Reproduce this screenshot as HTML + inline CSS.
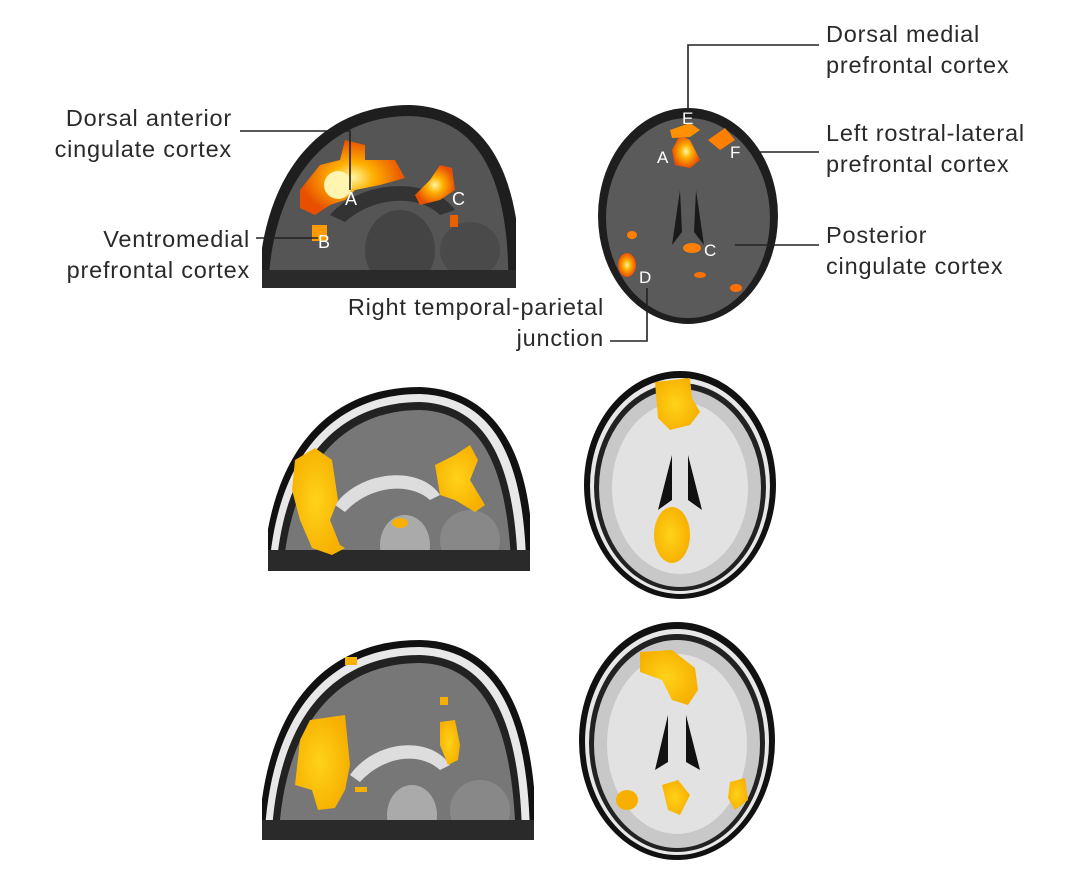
<!DOCTYPE html>
<html><head><meta charset="utf-8"><style>
html,body{margin:0;padding:0;background:#fff;}
body{width:1080px;height:872px;position:relative;overflow:hidden;font-family:"Liberation Sans",sans-serif;}
.t{position:absolute;font-size:23.5px;line-height:31px;color:#2a2a2a;letter-spacing:0.8px;white-space:nowrap;}
.r{text-align:right;}
</style></head><body>
<svg width="1080" height="872" style="position:absolute;left:0;top:0">
<defs>
<radialGradient id="hot" cx="50%" cy="50%" r="50%"><stop offset="0" stop-color="#fff7a0"/><stop offset=".4" stop-color="#ffb000"/><stop offset="1" stop-color="#e85000"/></radialGradient>
<radialGradient id="yel" cx="45%" cy="50%" r="55%"><stop offset="0" stop-color="#ffd21a"/><stop offset="1" stop-color="#f7b000"/></radialGradient>
</defs>
<!-- TOP SAGITTAL -->
<clipPath id="c1"><rect x="262" y="90" width="254" height="198"/></clipPath>
<g clip-path="url(#c1)">
<path d="M258,300 C258,175 320,105 410,105 C490,108 525,180 520,300Z" fill="#1e1e1e"/>
<path d="M268,300 C268,185 325,116 410,116 C482,118 512,185 508,300Z" fill="#555"/>
<path d="M330,215 C360,180 430,175 455,210 L440,215 C420,195 375,195 345,222Z" fill="#333"/>
<ellipse cx="400" cy="250" rx="35" ry="40" fill="#444"/>
<ellipse cx="470" cy="250" rx="30" ry="28" fill="#4a4a4a"/>
<rect x="262" y="270" width="254" height="20" fill="#2a2a2a"/>
<path d="M300,190 L320,165 L340,160 L345,140 L365,145 L365,160 L395,160 L405,178 L380,185 L355,190 L345,200 L330,205 L315,215 L300,208Z" fill="url(#hot)"/>
<ellipse cx="338" cy="185" rx="14" ry="14" fill="#fff4b0"/>
<path d="M415,195 L430,180 L440,165 L452,168 L455,190 L440,200 L420,205Z" fill="url(#hot)"/>
<rect x="312" y="225" width="15" height="16" fill="#ff9a00"/>
<rect x="450" y="215" width="8" height="12" fill="#e86000"/>
</g>
<g fill="#fff" font-family="Liberation Sans,sans-serif" font-size="18">
<text x="345" y="205">A</text><text x="452" y="205">C</text><text x="318" y="248">B</text>
</g>
<!-- TOP AXIAL -->
<ellipse cx="688" cy="216" rx="90" ry="108" fill="#1e1e1e"/>
<ellipse cx="688" cy="218" rx="82" ry="100" fill="#5a5a5a"/>
<path d="M680,190 L672,245 L682,232Z M696,190 L704,245 L694,232Z" fill="#1a1a1a"/>
<path d="M672,150 L680,135 L690,140 L700,160 L690,168 L675,165Z" fill="url(#hot)"/>
<path d="M670,130 L690,123 L700,130 L690,137 L672,138Z" fill="#ff9000"/>
<path d="M708,140 L725,128 L735,140 L720,150Z" fill="#ff8000"/>
<ellipse cx="627" cy="265" rx="9" ry="12" fill="url(#hot)"/>
<ellipse cx="632" cy="235" rx="5" ry="4" fill="#ff8000"/>
<ellipse cx="692" cy="248" rx="9" ry="5" fill="#ff8000"/>
<ellipse cx="700" cy="275" rx="6" ry="3" fill="#ff7000"/>
<ellipse cx="736" cy="288" rx="6" ry="4" fill="#ff7000"/>
<g fill="#fff" font-family="Liberation Sans,sans-serif" font-size="17">
<text x="682" y="124">E</text><text x="657" y="163">A</text><text x="730" y="158">F</text><text x="704" y="256">C</text><text x="639" y="283">D</text>
</g>
<!-- MIDDLE SAGITTAL -->
<clipPath id="c2"><rect x="268" y="370" width="262" height="201"/></clipPath>
<g clip-path="url(#c2)">
<path d="M262,600 C262,450 330,387 420,387 C500,390 540,460 532,600Z" fill="#111"/>
<path d="M268,600 C268,458 333,394 420,394 C496,397 530,462 526,600Z" fill="#e8e8e8"/>
<path d="M275,600 C275,465 336,402 420,402 C490,405 520,468 518,600Z" fill="#222"/>
<path d="M282,600 C282,472 340,410 420,410 C485,412 512,472 512,600Z" fill="#777"/>
<path d="M335,505 C360,470 420,465 440,495 L430,500 C410,482 370,485 345,512Z" fill="#ddd"/>
<ellipse cx="405" cy="545" rx="25" ry="30" fill="#aaa"/>
<ellipse cx="470" cy="540" rx="30" ry="30" fill="#888"/>
<rect x="262" y="550" width="270" height="25" fill="#2a2a2a"/>
<path d="M295,460 L315,448 L332,460 L338,500 L330,520 L340,545 L345,548 L332,555 L312,548 L300,520 L292,490Z" fill="url(#yel)"/>
<path d="M435,465 L455,455 L470,445 L478,460 L470,480 L485,505 L475,512 L455,500 L440,495Z" fill="url(#yel)"/>
<ellipse cx="400" cy="523" rx="8" ry="5" fill="#f7b000"/>
</g>
<!-- MIDDLE AXIAL -->
<ellipse cx="680" cy="485" rx="96" ry="114" fill="#111"/>
<ellipse cx="680" cy="486" rx="90" ry="108" fill="#e8e8e8"/>
<ellipse cx="680" cy="487" rx="86" ry="104" fill="#222"/>
<ellipse cx="680" cy="488" rx="81" ry="99" fill="#c8c8c8"/>
<ellipse cx="680" cy="488" rx="68" ry="86" fill="#e2e2e2"/>
<path d="M672,455 L658,510 L672,500Z M688,455 L702,510 L688,500Z" fill="#111"/>
<path d="M655,382 L690,378 L692,398 L700,412 L690,425 L670,430 L658,418Z" fill="url(#yel)"/>
<ellipse cx="672" cy="535" rx="18" ry="28" fill="url(#yel)"/>
<!-- BOTTOM SAGITTAL -->
<clipPath id="c3"><rect x="262" y="630" width="272" height="210"/></clipPath>
<g clip-path="url(#c3)">
<path d="M258,860 C258,700 330,640 420,640 C505,642 540,720 536,860Z" fill="#111"/>
<path d="M264,860 C264,708 333,647 420,647 C500,650 532,722 530,860Z" fill="#e8e8e8"/>
<path d="M271,860 C271,715 336,655 420,655 C494,658 524,728 522,860Z" fill="#222"/>
<path d="M278,860 C278,722 340,663 420,663 C488,665 516,732 516,860Z" fill="#777"/>
<path d="M350,775 C375,740 430,735 450,765 L440,770 C420,752 385,755 360,782Z" fill="#ddd"/>
<ellipse cx="412" cy="815" rx="25" ry="30" fill="#aaa"/>
<ellipse cx="480" cy="810" rx="30" ry="30" fill="#888"/>
<rect x="258" y="820" width="280" height="25" fill="#2a2a2a"/>
<path d="M310,720 L345,715 L350,765 L345,790 L335,808 L318,810 L312,790 L295,785 L300,740Z" fill="url(#yel)"/>
<path d="M440,722 L455,720 L460,745 L458,760 L448,765 L440,745Z" fill="url(#yel)"/>
<rect x="345" y="657" width="12" height="8" fill="#f7b000"/>
<rect x="440" y="697" width="8" height="8" fill="#f7b000"/>
<rect x="355" y="787" width="12" height="5" fill="#f7b000"/>
</g>
<!-- BOTTOM AXIAL -->
<ellipse cx="677" cy="741" rx="98" ry="119" fill="#111"/>
<ellipse cx="677" cy="742" rx="92" ry="113" fill="#e8e8e8"/>
<ellipse cx="677" cy="743" rx="88" ry="109" fill="#222"/>
<ellipse cx="677" cy="744" rx="83" ry="104" fill="#c8c8c8"/>
<ellipse cx="677" cy="744" rx="70" ry="90" fill="#e2e2e2"/>
<path d="M668,715 L655,770 L668,762Z M686,715 L700,770 L686,762Z" fill="#111"/>
<path d="M640,652 L672,650 L695,668 L698,690 L688,705 L672,700 L662,680 L640,672Z" fill="url(#yel)"/>
<path d="M662,785 L678,780 L690,795 L680,815 L668,810Z" fill="url(#yel)"/>
<ellipse cx="627" cy="800" rx="11" ry="10" fill="#f7b000"/>
<path d="M730,782 L745,778 L748,800 L735,810 L728,798Z" fill="url(#yel)"/>
<!-- connectors -->
<g stroke="#222" stroke-width="1.6" fill="none">
<polyline points="240,131 350,131 350,190"/>
<line x1="256" y1="238" x2="318" y2="238"/>
<polyline points="819,45 688,45 688,112"/>
<line x1="757" y1="152" x2="819" y2="152"/>
<line x1="735" y1="245" x2="819" y2="245"/>
<polyline points="610,341 647,341 647,288"/>
</g>
</svg>
<div class="t r" style="right:848px;top:103px">Dorsal anterior<br>cingulate cortex</div>
<div class="t r" style="right:830px;top:224px">Ventromedial<br>prefrontal cortex</div>
<div class="t" style="left:826px;top:19px">Dorsal medial<br>prefrontal cortex</div>
<div class="t" style="left:826px;top:118px">Left rostral-lateral<br>prefrontal cortex</div>
<div class="t" style="left:826px;top:220px">Posterior<br>cingulate cortex</div>
<div class="t r" style="right:476px;top:292px">Right temporal-parietal<br>junction</div>
</body></html>
